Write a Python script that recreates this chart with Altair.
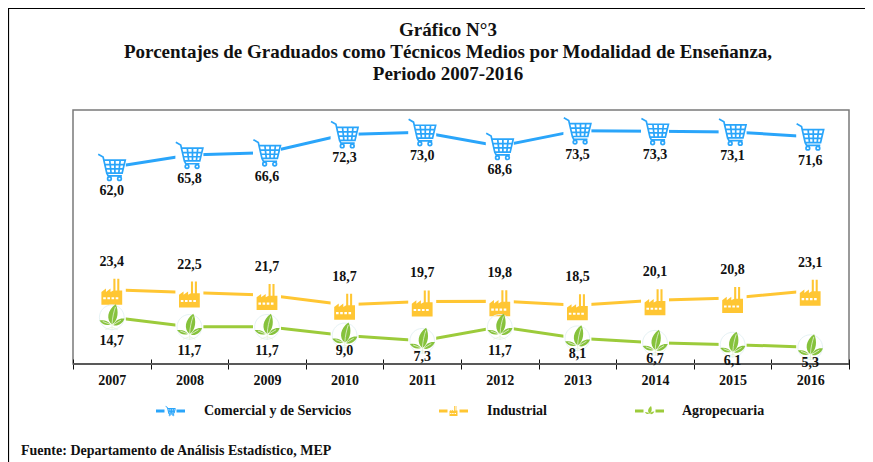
import altair as alt
import pandas as pd

years = ["2007", "2008", "2009", "2010", "2011", "2012", "2013", "2014", "2015", "2016"]
comercial = [62.0, 65.8, 66.6, 72.3, 73.0, 68.6, 73.5, 73.3, 73.1, 71.6]
industrial = [23.4, 22.5, 21.7, 18.7, 19.7, 19.8, 18.5, 20.1, 20.8, 23.1]
agropecuaria = [14.7, 11.7, 11.7, 9.0, 7.3, 11.7, 8.1, 6.7, 6.1, 5.3]
title_lines = ["Gráfico N°3",
               "Porcentajes de Graduados como Técnicos Medios por Modalidad de Enseñanza,",
               "Periodo 2007-2016"]
source = "Fuente: Departamento de Análisis Estadístico, MEP"
names = ["Comercial y de Servicios", "Industrial", "Agropecuaria"]

BLUE, ORANGE, GREEN = "#2AA5FA", "#FFC633", "#9CCB3B"
FONT = "Liberation Serif"
W, H = 776, 254
L, T = 65, 102

CART = ("M-0.97,-0.92 L-0.62,-0.72 L-0.36,0.42 L0.74,0.42 L0.96,-0.5 L-0.56,-0.5 "
        "M-0.49,-0.18 L0.88,-0.18 M-0.42,0.12 L0.81,0.12 "
        "M-0.15,-0.5 L-0.05,0.42 M0.22,-0.5 L0.22,0.42 M0.6,-0.5 L0.5,0.42 "
        "M-0.36,0.42 L-0.26,0.62 L0.72,0.62 "
        "M-0.3,0.82 a0.13,0.13 0 1,0 0.26,0 a0.13,0.13 0 1,0 -0.26,0 "
        "M0.42,0.82 a0.13,0.13 0 1,0 0.26,0 a0.13,0.13 0 1,0 -0.26,0")
FACTORY = ("M-0.8,1 L-0.8,0.02 L-0.45,-0.24 L-0.45,0.02 L-0.1,-0.24 L-0.1,0.02 L0.12,-0.1 L0.12,-1 "
           "L0.28,-1 L0.28,-0.1 L0.42,-0.1 L0.42,-1 L0.58,-1 L0.58,-0.1 L0.8,-0.1 L0.8,1 Z "
           "M-0.66,0.42 L-0.66,0.58 L-0.46,0.58 L-0.46,0.42 Z "
           "M-0.34,0.42 L-0.34,0.58 L-0.14,0.58 L-0.14,0.42 Z "
           "M-0.02,0.42 L-0.02,0.58 L0.18,0.58 L0.18,0.42 Z "
           "M0.3,0.42 L0.3,0.58 L0.5,0.58 L0.5,0.42 Z")
LEAF = ("M0.02,0.55 C-0.45,0.2 -0.35,-0.55 0.3,-1 C0.55,-0.5 0.5,0.25 0.02,0.55 Z "
        "M0.12,0.6 C0.3,0.2 0.6,0.05 0.98,0.1 C0.8,0.5 0.45,0.7 0.12,0.6 Z "
        "M-0.1,0.55 C-0.3,0.25 -0.6,0.2 -0.95,0.25 C-0.7,0.6 -0.4,0.65 -0.1,0.55 Z")
VEIN = ("M0.02,1 L0.02,0.5 C0.05,0 0.15,-0.4 0.28,-0.8 M0.1,0.58 L0.7,0.22 "
        "M-0.08,0.55 L-0.7,0.32 M0.02,0.75 L-0.5,0.95 M0.02,0.75 L0.45,0.95")
RING = "M-0.95,0 a0.95,0.95 0 1,0 1.9,0 a0.95,0.95 0 1,0 -1.9,0"

rows = []
for s, vals in zip(names, [comercial, industrial, agropecuaria]):
    for y, v in zip(years, vals):
        rows.append({"year": y, "value": v, "series": s, "label": f"{v:.1f}".replace(".", ",")})
df = pd.DataFrame(rows)

x = alt.X("year:N",
          scale=alt.Scale(type="band", domain=years, paddingInner=0, paddingOuter=0),
          axis=alt.Axis(title=None, labelAngle=0, domain=False, tickBand="extent", tickSize=10,
                        tickColor="#111111", tickWidth=1, offset=-5, labelPadding=4,
                        labelFont=FONT, labelFontWeight="bold", labelFontSize=14,
                        labelColor="#111111", grid=False))
y = alt.Y("value:Q", scale=alt.Scale(domain=[0, 80]), axis=None)

def series(name):
    return alt.Chart(df).transform_filter(alt.datum.series == name)

layers = []
# frame of the picture
for kw in [dict(x=alt.value(-L + 0.5), x2=alt.value(800), y=alt.value(-T + 0.5)),
           dict(x=alt.value(-L + 0.5), y=alt.value(-T), y2=alt.value(360))]:
    layers.append(alt.Chart(pd.DataFrame({"a": [0]})).mark_rule(color="#000000", strokeWidth=1.2).encode(**kw))
layers.append(alt.Chart(pd.DataFrame({"a": [0]})).mark_rule(color="#595959", strokeWidth=2).encode(
    x=alt.value(0), x2=alt.value(W), y=alt.value(H)))

# lines and white gaps
for name, col in zip(names, [BLUE, ORANGE, GREEN]):
    layers.append(series(name).mark_line(color=col, strokeWidth=3).encode(x=x, y=y))
layers.append(alt.Chart(df).mark_point(shape="square", filled=True, color="white", opacity=1, size=28 ** 2).encode(x=x, y=y))

# icons
layers.append(series(names[0]).mark_point(shape=CART, filled=False, color=BLUE, strokeWidth=1.7, opacity=1, size=28 ** 2).encode(x=x, y=y))
layers.append(series(names[1]).mark_point(shape=FACTORY, filled=True, color=ORANGE, opacity=1, size=26 ** 2, yOffset=2).encode(x=x, y=y))
layers.append(series(names[2]).mark_point(shape=RING, filled=False, color="#E6F2F5", strokeWidth=1, opacity=1, size=26 ** 2).encode(x=x, y=y))
layers.append(series(names[2]).mark_point(shape=LEAF, filled=True, color="#86C23C", opacity=1, size=26 ** 2).encode(x=x, y=y))
layers.append(series(names[2]).mark_point(shape=VEIN, filled=False, color="#E6F3D8", strokeWidth=0.8, opacity=1, size=26 ** 2).encode(x=x, y=y))

# value labels
def labels(chart, dy):
    return chart.mark_text(font=FONT, fontWeight="bold", fontSize=14, color="#111111", dy=dy).encode(
        x=x, y=y, text="label:N")

layers.append(labels(series(names[0]), 24))
layers.append(labels(series(names[1]), -28))
layers.append(labels(series(names[2]).transform_filter(alt.datum.value >= 10), 24))
layers.append(labels(series(names[2]).transform_filter(alt.datum.value < 10), 16))

# title, source
def text_layer(txt, px, py, size, align="center"):
    return alt.Chart(pd.DataFrame({"t": [txt]})).mark_text(
        font=FONT, fontWeight="bold", fontSize=size, color="#111111", align=align, baseline="middle"
    ).encode(x=alt.value(px), y=alt.value(py), text="t:N")

for line, py in zip(title_lines, [30, 52, 74]):
    layers.append(text_layer(line, 448 - 8 - L, py - 8 - T, 19))
layers.append(text_layer(source, 21 - 8 - L, 451 - 8 - T, 14, "left"))

# legend
for name, col, shape, lx, tx in zip(names, [BLUE, ORANGE, GREEN], [CART, FACTORY, LEAF],
                                    [156, 439, 635], [204, 487, 682]):
    ly = 411 - 8 - T
    layers.append(alt.Chart(pd.DataFrame({"a": [0]})).mark_rule(color=col, strokeWidth=3).encode(
        x=alt.value(lx - 8 - L), x2=alt.value(lx + 29 - 8 - L), y=alt.value(ly)))
    layers.append(alt.Chart(pd.DataFrame({"a": [0]})).mark_point(shape="square", filled=True, color="white", opacity=1, size=12 ** 2).encode(
        x=alt.value(lx + 14.5 - 8 - L), y=alt.value(ly)))
    layers.append(alt.Chart(pd.DataFrame({"a": [0]})).mark_point(
        shape=shape, filled=shape != CART, color=col, opacity=1, size=10 ** 2, strokeWidth=1).encode(
        x=alt.value(lx + 14.5 - 8 - L), y=alt.value(ly)))
    layers.append(text_layer(name, tx - 8 - L, ly, 14, "left"))

chart = alt.layer(*layers).properties(
    width=W, height=H,
    padding={"left": L, "top": T, "right": 16, "bottom": 98},
    autosize=alt.AutoSizeParams(type="none"),
    background="white",
).configure_view(stroke="#7A7A7A", strokeWidth=1.5)

chart.save("out.html", embed_options={"renderer": "svg", "actions": False})
